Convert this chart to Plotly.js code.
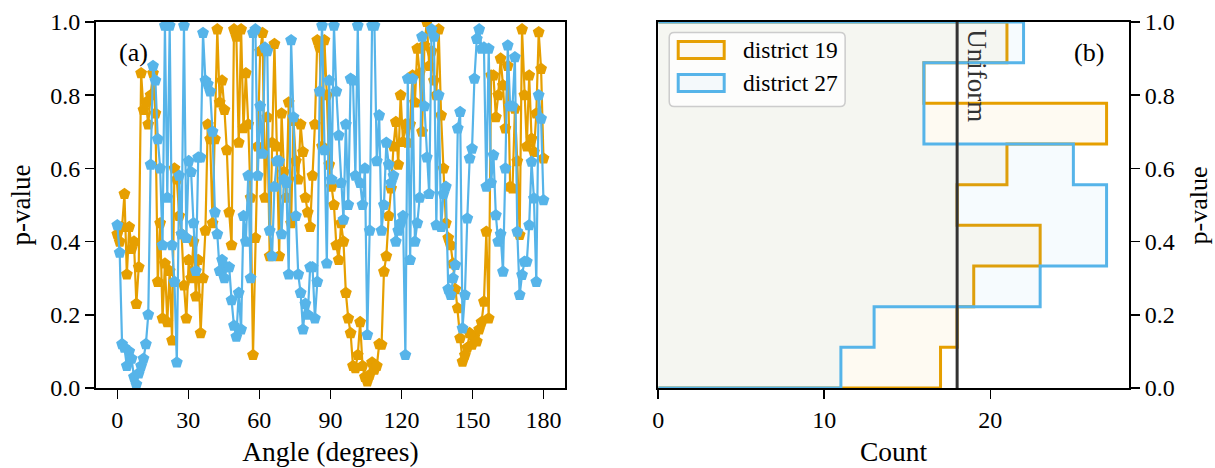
<!DOCTYPE html>
<html><head><meta charset="utf-8">
<script src="https://cdn.plot.ly/plotly-3.0.1.min.js"></script>
<style>html,body{margin:0;padding:0;background:#fff}#chart{width:1215px;height:468px}</style>
</head><body><div id="chart"></div>
<script>
// ---------- data ----------
const seriesNames = ['district 19', 'district 27'];
const seriesColors = ['#E69F00', '#56B4E9'];
const angleMin = 0, angleMax = 180;

const district19 = [
0.42,0.40,0.44,0.53,0.31,0.44,0.38,0.40,0.23,0.33,
0.86,0.76,0.78,0.72,0.80,0.86,0.75,0.29,0.45,0.19,
0.34,0.18,0.32,0.13,0.60,0.57,0.47,0.42,0.28,0.19,
0.35,0.30,0.40,0.25,0.35,0.15,0.30,0.43,0.72,0.68,
0.45,0.68,0.98,0.78,0.84,0.76,0.65,0.48,0.39,0.98,
0.96,0.67,0.98,0.71,0.86,0.72,0.52,0.09,0.41,0.66,
0.92,0.97,0.52,0.74,0.36,0.67,0.94,0.66,0.36,0.75,
0.59,0.52,0.78,0.45,0.73,0.62,0.57,0.72,0.645,0.52,
0.48,0.44,0.58,0.72,0.95,0.93,0.66,0.95,0.80,0.61,
0.55,0.50,0.39,0.35,0.45,0.40,0.26,0.19,0.15,0.06,
0.054,0.09,0.18,0.06,0.03,0.018,0.036,0.07,0.05,0.06,
0.12,0.118,0.318,0.36,0.47,0.545,0.66,0.727,0.61,0.80,
0.672,0.72,0.67,0.72,0.854,0.78,0.927,0.86,0.70,0.936,
1.0,0.88,0.92,0.84,0.80,0.98,0.745,0.60,0.45,0.41,
0.39,0.34,0.27,0.218,0.136,0.072,0.09,0.11,0.15,0.118,
0.14,0.127,0.16,0.18,0.236,0.427,0.19,0.854,0.854,0.74,
0.80,0.90,0.827,0.709,0.88,0.55,0.545,0.763,0.62,0.418,
0.98,0.80,0.66,0.854,0.681,0.645,0.75,0.972,0.872,0.627
];

const district27 = [
0.445,0.37,0.12,0.11,0.06,0.10,0.08,0.03,0.01,0.04,
0.06,0.08,0.12,0.20,0.61,0.88,0.84,0.68,0.60,0.39,
0.99,0.52,0.99,0.39,0.29,0.07,0.58,0.42,0.99,0.41,
0.62,0.59,0.45,0.32,0.63,0.63,0.97,0.84,0.83,0.81,
0.70,0.48,0.42,0.32,0.35,0.30,0.33,0.33,0.24,0.17,
0.14,0.26,0.16,0.47,0.40,0.58,0.30,0.97,0.98,0.58,
0.77,0.64,0.93,0.92,0.43,0.36,0.55,0.62,0.62,0.42,
0.57,0.56,0.31,0.95,0.74,0.47,0.31,0.26,0.16,0.23,
0.20,0.33,0.33,0.19,0.29,0.81,0.99,0.65,0.34,0.84,
0.57,0.99,0.81,0.69,0.56,0.46,0.72,0.50,0.845,0.84,
0.58,0.99,0.56,0.50,0.60,0.145,0.43,0.99,0.99,0.62,
0.745,0.43,0.50,0.67,0.61,0.56,0.58,0.40,0.43,0.45,
0.47,0.09,0.845,0.35,0.845,0.40,0.45,0.52,0.96,0.77,
0.63,0.53,0.98,0.96,0.445,0.80,0.44,0.53,0.55,0.27,
0.254,0.30,0.336,0.709,0.754,0.163,0.254,0.463,0.627,0.654,
0.845,0.954,0.98,0.927,0.93,0.55,0.927,0.56,0.636,0.472,
0.40,0.42,0.318,0.60,0.936,0.77,0.77,0.904,0.427,0.254,
0.309,0.345,0.345,0.445,0.618,0.518,0.29,0.80,0.736,0.513
];

// histogram of p-values (9 bins)
const binEdges = [0, 0.1111, 0.2222, 0.3333, 0.4444, 0.5556, 0.6667, 0.7778, 0.8889, 1.0];
const counts19 = [17, 18, 19, 23, 18, 21, 27, 16, 21];
const counts27 = [11, 13, 23, 27, 27, 25, 16, 16, 22];
const uniformCount = 18;

const angleTicks = [0, 30, 60, 90, 120, 150, 180];
const pTicks = [0, 0.2, 0.4, 0.6, 0.8, 1.0];
const countTicks = [0, 10, 20];

// ---------- build ----------
function angleGrid(n){ const a=[]; for(let i=0;i<n;i++) a.push(angleMin + i*(angleMax-angleMin)/(n-1)); return a; }
function stepOutline(counts, edges){
  const x=[0], y=[edges[0]];
  for(let i=0;i<counts.length;i++){ x.push(counts[i], counts[i]); y.push(edges[i], edges[i+1]); }
  x.push(0); y.push(edges[edges.length-1]);
  return {x, y};
}
function rgba(hex, a){ const n=parseInt(hex.slice(1),16); return `rgba(${(n>>16)&255},${(n>>8)&255},${n&255},${a})`; }

const FONT = 'Liberation Serif, Times New Roman, serif';
const traces = [];
[district19, district27].forEach((vals, k) => {
  traces.push({
    type:'scatter', mode:'lines+markers', x: angleGrid(vals.length), y: vals,
    xaxis:'x', yaxis:'y', name: seriesNames[k], showlegend:false,
    line:{color: seriesColors[k], width:2.2},
    marker:{symbol:'pentagon', size:12.5, color: seriesColors[k], line:{width:0}}
  });
});
[counts19, counts27].forEach((c, k) => {
  const o = stepOutline(c, binEdges);
  traces.push({
    type:'scatter', mode:'lines', x:o.x, y:o.y, xaxis:'x2', yaxis:'y2',
    fill:'toself', fillcolor: rgba(seriesColors[k], 0.05),
    line:{color: seriesColors[k], width:3}, name: seriesNames[k], showlegend:false
  });
});
traces.push({type:'scatter', mode:'lines', x:[uniformCount, uniformCount], y:[0,1], xaxis:'x2', yaxis:'y2',
  line:{color:'#333333', width:3}, showlegend:false, name:'Uniform'});

// pixel geometry
const PL = 95.5, PR = 1129, PT = 21.5, PB = 388;
const W = PR - PL, H = PB - PT;
const px = v => (v - PL) / W;
const py = v => (PB - v) / H;

function roundRect(x0p, y0p, x1p, y1p, r){
  const a=px(x0p), b=px(x1p), top=py(y0p), bot=py(y1p), rx=r/W, ry=r/H;
  return `M${a+rx},${top} L${b-rx},${top} Q${b},${top} ${b},${top-ry} L${b},${bot+ry} Q${b},${bot} ${b-rx},${bot} L${a+rx},${bot} Q${a},${bot} ${a},${bot+ry} L${a},${top-ry} Q${a},${top} ${a+rx},${top} Z`;
}

const shapes = [
  {type:'path', xref:'paper', yref:'paper', path: roundRect(669, 32, 845, 106, 5),
   fillcolor:'rgba(255,255,255,0.8)', line:{color:'#cccccc', width:1.5}},
];
const legendRows = [{y0:40, y1:59, yc:50}, {y0:73, y1:92, yc:83}];
const annotations = [];
legendRows.forEach((r, k) => {
  shapes.push({type:'rect', xref:'paper', yref:'paper', x0:px(678), x1:px(724), y0:py(r.y0+1), y1:py(r.y1-1),
    fillcolor: rgba(seriesColors[k], 0.05), line:{color: seriesColors[k], width:3}});
  annotations.push({xref:'paper', yref:'paper', x:px(741), y:py(r.yc), xanchor:'left', yanchor:'middle',
    text: seriesNames[k], showarrow:false, font:{family:FONT, size:23.5, color:'#000'}});
});
annotations.push({xref:'paper', yref:'paper', x:px(133), y:py(52), xanchor:'center', yanchor:'middle',
  text:'(a)', showarrow:false, font:{family:FONT, size:26, color:'#000'}});
annotations.push({xref:'paper', yref:'paper', x:px(1089), y:py(52), xanchor:'center', yanchor:'middle',
  text:'(b)', showarrow:false, font:{family:FONT, size:26, color:'#000'}});
annotations.push({xref:'x2', yref:'paper', x:uniformCount, y:1, xanchor:'left', yanchor:'top', xshift:3, yshift:-5,
  text:'Uniform', textangle:90, showarrow:false, font:{family:FONT, size:27, color:'#333'}});
// right-hand y-axis title
annotations.push({xref:'paper', yref:'paper', x:px(1198.5), y:0.5, xanchor:'center', yanchor:'middle',
  text:'p-value', textangle:-90, showarrow:false, font:{family:FONT, size:26, color:'#000'}});

const axCommon = {showgrid:false, zeroline:false, showline:true, linecolor:'#000', linewidth:2, mirror:true,
  ticks:'outside', ticklen:9, tickwidth:1.6, tickcolor:'#000', tickfont:{family:FONT, size:24, color:'#000'}};

const layout = {
  width:1215, height:468, paper_bgcolor:'#fff', plot_bgcolor:'#fff', showlegend:false,
  margin:{l:PL, r:1215-PR, t:PT, b:468-PB, pad:0},
  font:{family:FONT, color:'#000'},
  xaxis:Object.assign({}, axCommon, {domain:[0, px(564.5)], range:[-9, 189], tickvals:angleTicks, anchor:'y',
    title:{text:'Angle (degrees)', standoff:10, font:{family:FONT, size:27.5, color:'#000'}}}),
  yaxis:Object.assign({}, axCommon, {domain:[0,1], range:[0,1], tickvals:pTicks, tickformat:'.1f', anchor:'x',
    title:{text:'p-value', standoff:12, font:{family:FONT, size:27, color:'#000'}}}),
  xaxis2:Object.assign({}, axCommon, {domain:[px(658), 1], range:[0, 28.35], tickvals:countTicks, anchor:'y2',
    title:{text:'Count', standoff:10, font:{family:FONT, size:27.5, color:'#000'}}}),
  yaxis2:Object.assign({}, axCommon, {domain:[0,1], range:[0,1], tickvals:pTicks, tickformat:'.1f', anchor:'x2', side:'right'}),
  shapes, annotations
};

Plotly.newPlot('chart', traces, layout, {staticPlot:true, displayModeBar:false});
</script>
</body></html>
